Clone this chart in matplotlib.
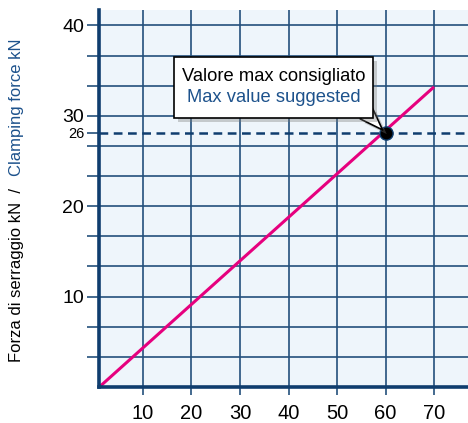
"""
Clamping force vs. size chart with the suggested max value callout.
"""
import matplotlib
matplotlib.use("Agg")
import matplotlib.pyplot as plt
import matplotlib.patheffects as pe
from matplotlib.patches import FancyBboxPatch
import numpy as np

plt.rcParams["font.family"] = ["Liberation Sans", "DejaVu Sans"]

# -----------------------------------------------------------------------------
# Data
# -----------------------------------------------------------------------------
force_x = [1, 70]            # start at the axis corner, end at 70
force_y = [0.0, 33.2]        # kN
suggested_x = 60
suggested_y = 28.1           # where the dashed line sits on the drawn scale
suggested_label = "26"
x_ticks = [10, 20, 30, 40, 50, 60, 70]
y_labels = {10: "10", 20: "20", 30: "30", 40: "40"}

NAVY = "#0f3d6e"
GRID = "#24507c"
TEXT_BLUE = "#1d528c"
MAGENTA = "#e6007e"
BG = "#eef5fb"

# -----------------------------------------------------------------------------
# Figure
# -----------------------------------------------------------------------------
fig = plt.figure(figsize=(4.68, 4.23), dpi=100)
ax = fig.add_axes([99.3 / 468, 1 - 387 / 423, 1 - 99.3 / 468, (387 - 10) / 423])
ax.set_facecolor(BG)
ax.set_xlim(1, 77)
ax.set_ylim(0, 41.7)

# grid every 10/3 kN vertically, every 10 horizontally
y_grid = np.arange(1, 13) * 10 / 3
ax.set_yticks(list(y_grid) + [suggested_y])
ax.set_yticklabels([y_labels.get(int(round(v)), "") if abs(v - round(v)) < 1e-6 else ""
                    for v in y_grid] + [suggested_label])
ax.set_xticks(x_ticks)
ax.set_xticklabels([str(v) for v in x_ticks])
for v in y_grid:
    ax.axhline(v, color=GRID, lw=1.2, zorder=1)
for v in x_ticks:
    ax.axvline(v, color=GRID, lw=1.2, zorder=1)

ax.tick_params(axis="y", length=9, width=1.2, color=GRID, labelsize=14, pad=2)
ax.tick_params(axis="x", length=6, width=1.2, color=GRID, labelsize=14.5, pad=6)
for lab in ax.get_yticklabels():
    if lab.get_text() == suggested_label:
        lab.set_fontsize(10.5)

for side in ("top", "right"):
    ax.spines[side].set_visible(False)
for side in ("left", "bottom"):
    ax.spines[side].set_color(NAVY)
    ax.spines[side].set_linewidth(2.6)
    ax.spines[side].set_zorder(5)

# suggested max line + marker
ax.axhline(suggested_y, color=NAVY, lw=1.8, ls=(0, (3.5, 2.2)), zorder=3)
ax.plot(force_x, force_y, color=MAGENTA, lw=2.2, zorder=4, solid_capstyle="butt")
ax.plot([suggested_x], [suggested_y], "o", ms=9.5, mfc="black", mec=NAVY, mew=1, zorder=6)

# callout: box + wedge tail pointing at the marker
shadow = [pe.withSimplePatchShadow(offset=(3, -3), shadow_rgbFace="#777777", alpha=0.35)]
box = FancyBboxPatch((16.4, 29.8), 41.0, 6.7, boxstyle="square,pad=0",
                     fc="white", ec="black", lw=1.2, zorder=7, mutation_aspect=1)
box.set_path_effects(shadow)
ax.add_patch(box)
tail = ax.annotate("", xy=(suggested_x, suggested_y), xytext=(56.0, 30.3),
                   zorder=6.5,
                   arrowprops=dict(arrowstyle="wedge,tail_width=1.2,shrink_factor=0.5",
                                   fc="white", ec="black", lw=1.2,
                                   shrinkA=0, shrinkB=3))
tail.arrow_patch.set_path_effects(shadow)
ax.text(36.9, 34.3, "Valore max consigliato", ha="center", va="center",
        fontsize=13.2, color="black", zorder=8)
ax.text(36.9, 32.0, "Max value suggested", ha="center", va="center",
        fontsize=13.2, color=TEXT_BLUE, zorder=8)

# two-colour y label
fig.text(17 / 468, 1 - 362 / 423, "Forza di serraggio kN  /", rotation=90,
         ha="center", va="bottom", fontsize=12, color="black")
fig.text(17 / 468, 1 - 38 / 423, "Clamping force kN", rotation=90,
         ha="center", va="top", fontsize=12, color=TEXT_BLUE)

fig.savefig("out.png", dpi=100)
